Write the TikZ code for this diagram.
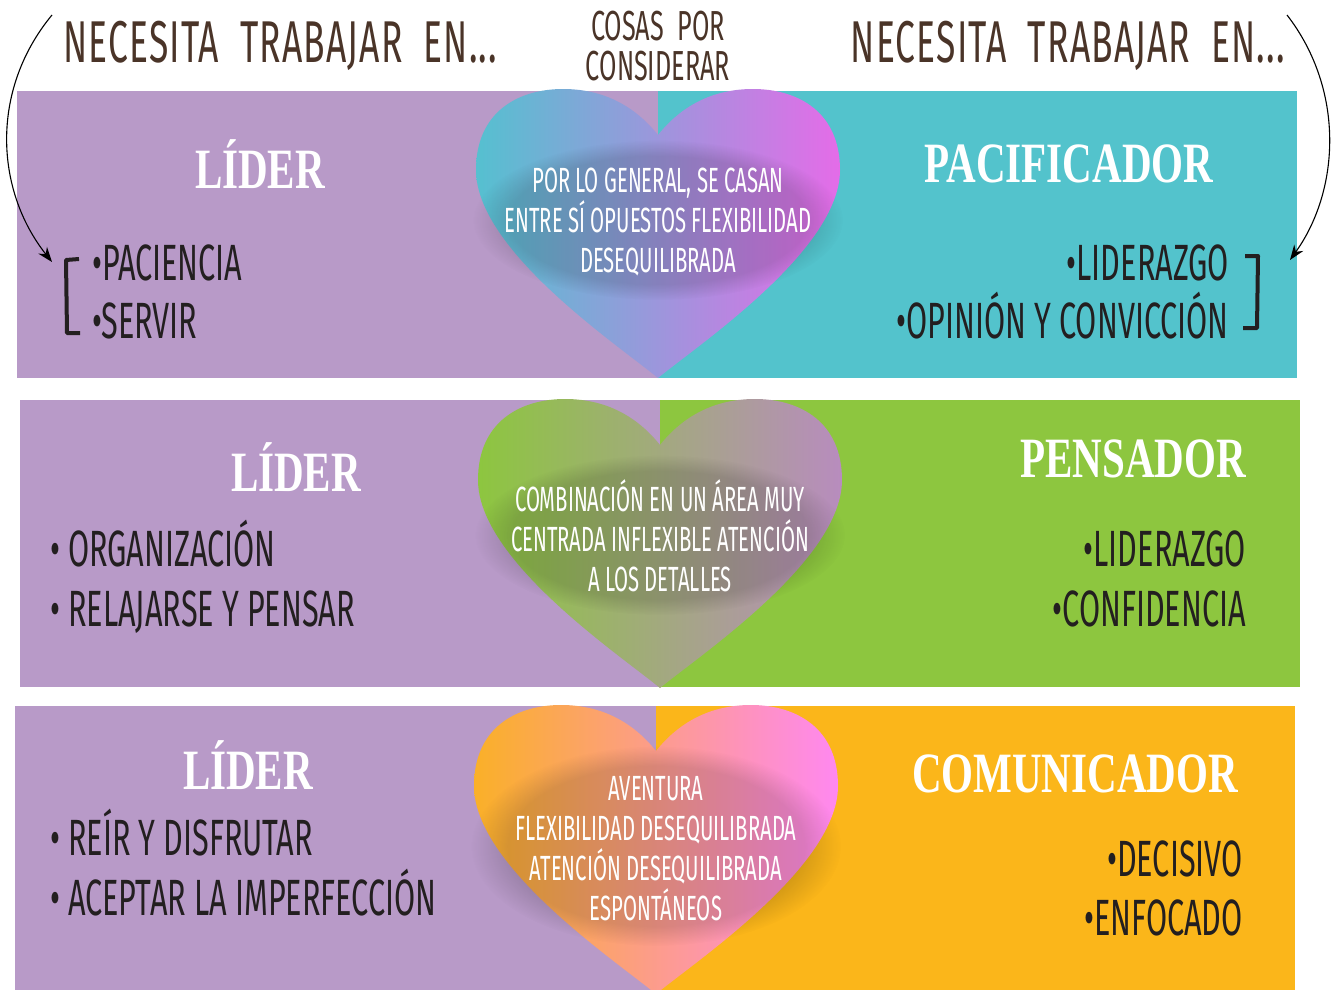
\documentclass[tikz,border=0pt]{standalone}
\usepackage{fontspec}
\usetikzlibrary{arrows.meta,fadings}
\newfontfamily\handfont[FakeStretch=0.6]{Fira Sans}
\newfontfamily\titlefont[FakeStretch=0.6,LetterSpace=2]{Fira Sans}
\newfontfamily\heartfont[FakeStretch=0.58]{Fira Sans}
\newfontfamily\headfont[FakeStretch=0.72]{Liberation Serif}
\definecolor{lila}{HTML}{B89AC8}
\definecolor{turquesa}{HTML}{53C3CC}
\definecolor{verde}{HTML}{8DC63F}
\definecolor{naranja}{HTML}{FBB61A}
\definecolor{cafe}{HTML}{4A3428}
\definecolor{tinta}{HTML}{231F20}
\def\heartpath{(0,378) .. controls (-40,345) and (-182,250) .. (-182,170) .. controls (-182,112) and (-140,89) .. (-95,89) .. controls (-50,89) and (-20,110) .. (0,135) .. controls (20,110) and (50,89) .. (95,89) .. controls (140,89) and (182,112) .. (182,170) .. controls (182,250) and (40,345) .. (0,378) -- cycle}
\tikzset{
  titulo/.style={font={\titlefont\fontsize{59}{60}\selectfont}, text=cafe, inner sep=0pt},
  cosas/.style={font={\handfont\fontsize{42}{40}\selectfont}, text=cafe, inner sep=0pt, align=center},
  cabeza/.style={font={\headfont\bfseries\fontsize{57}{57}\selectfont}, text=white, inner sep=0pt},
  lista/.style={font={\handfont\fontsize{51}{52}\selectfont}, text=tinta, inner sep=0pt},
  corazon/.style={font={\heartfont\fontsize{35}{40}\selectfont}, text=white, inner sep=0pt, align=center},
  sombra/.style={black, opacity=0.14, path fading=circle with fuzzy edge 20 percent},
  flecha/.style={-{Stealth[length=15pt,width=11pt]}, line width=1.1pt, black},
  corchete/.style={line width=4pt, tinta, line join=round}
}
\begin{document}
\begin{tikzpicture}[x=1pt,y=-1pt]
			%%%%% START %%%%%
			\useasboundingbox (0,0) rectangle (1333,990);
			
			% bandas
			\fill[lila] (17,91) rectangle (658,378);
			\fill[turquesa] (658,91) rectangle (1297,378);
			\fill[lila] (20,400) rectangle (660,687);
			\fill[verde] (660,400) rectangle (1300,687);
			\fill[lila] (15,706) rectangle (656,990);
			\fill[naranja] (656,706) rectangle (1295,990);
			
			% corazones
			\begin{scope}[shift={(658,0)}]
			\shade[left color={rgb,255:red,85;green,192;blue,208}, middle color={rgb,255:red,142;green,155;blue,248}, right color={rgb,255:red,228;green,108;blue,232}] \heartpath;
			\fill[sombra] (0,220) ellipse (185 and 80);
			\end{scope}
			\begin{scope}[shift={(660,310)}]
			\shade[left color=verde, middle color={rgb,255:red,168;green,168;blue,142}, right color={rgb,255:red,184;green,140;blue,190}] \heartpath;
			\fill[sombra] (0,225) ellipse (185 and 80);
			\end{scope}
			\begin{scope}[shift={(656,616)}]
			\shade[left color={rgb,255:red,250;green,176;blue,40}, middle color={rgb,255:red,248;green,160;blue,120}, right color={rgb,255:red,255;green,136;blue,240}] \heartpath;
			\fill[sombra] (0,230) ellipse (185 and 100);
			\end{scope}
			
			% titulos
			\node[titulo, anchor=base west] (tituloL) at (63,63) {NECESITA\ \ TRABAJAR\ \ EN...};
			\node[titulo, anchor=base east] (tituloR) at (1285,63) {NECESITA\ \ TRABAJAR\ \ EN...};
			\node[cosas] (cosas) at (658,46) {COSAS\ \ POR\\CONSIDERAR};
			
			% flechas
			\coordinate (arrL0) at (52,15);
			\coordinate (arrL1) at (52,262);
			\coordinate (arrR0) at (1287,15);
			\coordinate (arrR1) at (1290,260);
			\draw[flecha] (arrL0) .. controls (-10,90) and (-5,190) .. (arrL1);
			\draw[flecha] (arrR0) .. controls (1345,90) and (1340,190) .. (arrR1);
			
			% banda 1
			\node[cabeza] (lider1) at (260,164) {LÍDER};
			\node[cabeza] (pacificador) at (1069,164) {PACIFICADOR};
			\node[lista, anchor=base west] (paciencia) at (92,280) {•PACIENCIA};
			\node[lista, anchor=base west] (servir) at (92,338) {•SERVIR};
			\node[lista, anchor=base east] (liderazgo1) at (1229,280) {•LIDERAZGO};
			\node[lista, anchor=base east] (opinion) at (1229,338) {•OPINIÓN Y CONVICCIÓN};
			\draw[corchete] (79,259) -- (66,260) -- (67,333) -- (80,333);
			\draw[corchete] (1245,256) -- (1258,256) -- (1257,328) -- (1243,328);
			\node[corazon] (casan) at (658,222) {POR LO GENERAL, SE CASAN\\ENTRE SÍ OPUESTOS FLEXIBILIDAD\\DESEQUILIBRADA};
			
			% banda 2
			\node[cabeza] (lider2) at (296,467) {LÍDER};
			\node[cabeza] (pensador) at (1133,459) {PENSADOR};
			\node[lista, anchor=base west] (organizacion) at (50,566) {•\ ORGANIZACIÓN};
			\node[lista, anchor=base west] (relajarse) at (50,626) {•\ RELAJARSE Y PENSAR};
			\node[lista, anchor=base east] (liderazgo2) at (1246,566) {•LIDERAZGO};
			\node[lista, anchor=base east] (confidencia) at (1246,626) {•CONFIDENCIA};
			\node[corazon] (combinacion) at (660,536) {COMBINACIÓN EN UN ÁREA MUY\\CENTRADA INFLEXIBLE ATENCIÓN\\A LOS DETALLES};
			
			% banda 3
			\node[cabeza] (lider3) at (248,765) {LÍDER};
			\node[cabeza] (comunicador) at (1075,774) {COMUNICADOR};
			\node[lista, anchor=base west] (reir) at (50,855) {•\ REÍR Y DISFRUTAR};
			\node[lista, anchor=base west] (aceptar) at (50,915) {•\ ACEPTAR LA IMPERFECCIÓN};
			\node[lista, anchor=base east] (decisivo) at (1243,876) {•DECISIVO};
			\node[lista, anchor=base east] (enfocado) at (1243,935) {•ENFOCADO};
			\node[corazon] (aventura) at (656,849) {AVENTURA\\FLEXIBILIDAD DESEQUILIBRADA\\ATENCIÓN DESEQUILIBRADA\\ESPONTÁNEOS};
			
			%%%%% END %%%%%
\end{tikzpicture}
\end{document}
